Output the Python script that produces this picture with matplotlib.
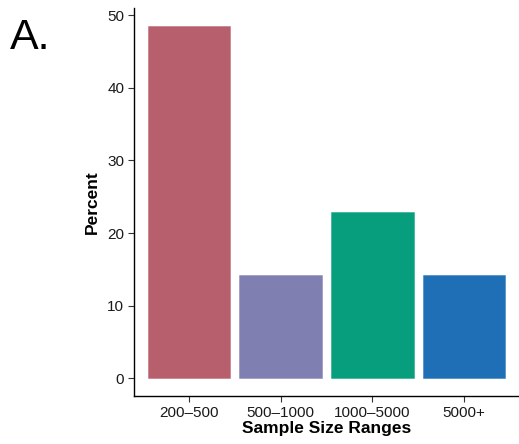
import matplotlib
matplotlib.use("Agg")
import matplotlib.pyplot as plt

categories = ["200\u2013500", "500\u20131000", "1000\u20135000", "5000+"]
percent = [48.57, 14.29, 22.86, 14.29]
colors = ["#B85F6E", "#7F7FB1", "#079E7D", "#1E6FB6"]

plt.rcParams['font.family'] = ['Liberation Sans', 'DejaVu Sans']

fig = plt.figure(figsize=(5.19, 4.44), dpi=100)
ax = fig.add_axes([134/519, 48/444, (519-134)/519, (396-8)/444])

x = list(range(1, len(categories) + 1))
ax.bar(x, percent, width=0.9, color=colors, edgecolor=[c + "80" for c in colors], linewidth=0.6)

ax.set_xlim(0.4, 4.6)
ymax = max(percent)
ax.set_ylim(-0.05 * ymax, ymax * 1.05)
ax.set_xticks(x)
ax.set_xticklabels(categories, fontsize=11, color="#1a1a1a")
ax.set_yticks([0, 10, 20, 30, 40, 50])
ax.tick_params(axis='y', labelsize=11, labelcolor="#1a1a1a", length=4, width=0.8, color="#333333", pad=3)
ax.tick_params(axis='x', length=4, width=0.8, color="#333333", pad=3)

for s in ["top", "right"]:
    ax.spines[s].set_visible(False)
for s in ["left", "bottom"]:
    ax.spines[s].set_linewidth(1.0)
    ax.spines[s].set_color("#000000")

ax.set_xlabel("Sample Size Ranges", fontsize=12.5, fontweight="bold", labelpad=1)
ax.set_ylabel("Percent", fontsize=12.5, fontweight="bold", labelpad=5)

fig.text(10/519, 1 - 38/444, "A.", fontsize=31, va="center", ha="left")

fig.savefig("out.png", dpi=100)
